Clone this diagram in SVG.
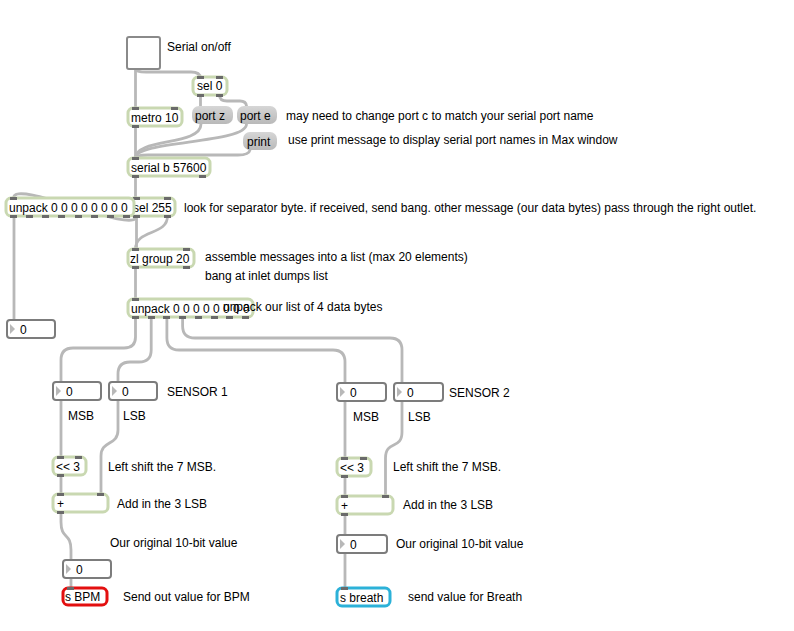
<svg xmlns="http://www.w3.org/2000/svg" width="794" height="631" viewBox="0 0 794 631">
<defs>
<linearGradient id="msgGrad" x1="0" y1="0" x2="0" y2="1">
<stop offset="0" stop-color="#d6d6d6"/>
<stop offset="1" stop-color="#b9b9b9"/>
</linearGradient>
</defs>
<style>
text{font-family:"Liberation Sans",Arial,sans-serif;font-size:12px;fill:#000}
.obj{fill:#fff;stroke:#c9d8b1;stroke-width:3}
.tab{fill:#6a6a6a}
.num{fill:#fff;stroke:#7c7c7c;stroke-width:2}
.tri{fill:#b8b8b8}
.msg{fill:url(#msgGrad)}
.tog{fill:#fff;stroke:#8a8a8a;stroke-width:2}
.cord{fill:none;stroke:#b8b8b8;stroke-width:2.8;stroke-linecap:round}
.sendr{fill:#fff;stroke:#e30f0f;stroke-width:3}
.sendb{fill:#fff;stroke:#2cb1d8;stroke-width:3}
</style>
<rect width="794" height="631" fill="#fff"/>

<g id="connectors">
<path class="cord" d="M135.5,69 V108"/>
<path class="cord" d="M135.5,69 Q136,72 146,72 L191,72 Q200,72 200.5,78"/>
<path class="cord" d="M200.5,95 V106"/>
<path class="cord" d="M219.5,95 Q219.5,101 227,101 L240,101 Q246,101 246.5,106"/>
<path class="cord" d="M201,124 C201,146 135.5,138 135.5,158"/>
<path class="cord" d="M246.5,124 C246.5,144 135.5,140 135.5,158"/>
<path class="cord" d="M250,150 Q249,155 238,155 L148,155 Q136,155 135.5,158"/>
<path class="cord" d="M135.5,126 V158"/>
<path class="cord" d="M135.5,176 V198"/>
<path class="cord" d="M136.5,216 C136.5,236 13.5,178 13.5,198"/>
<path class="cord" d="M136.5,216 V249"/>
<path class="cord" d="M167.5,216 C167.5,236 135.5,229 135.5,249"/>
<path class="cord" d="M14,216 V320"/>
<path class="cord" d="M135.5,267 V299"/>
<path class="cord" d="M135.5,317 V337 Q135.5,348 124,348 L73,348 Q61,348 61,360 V382"/>
<path class="cord" d="M151.2,317 V350 Q151.2,362 139,362 L130,362 Q118,362 118,374 V382"/>
<path class="cord" d="M166.9,317 V338 Q166.9,350 179,350 L333,350 Q345,350 345,362 V383"/>
<path class="cord" d="M182.6,317 V326 Q182.6,338 195,338 L390,338 Q402,338 402,350 V383"/>
<path class="cord" d="M61,400 V457"/>
<path class="cord" d="M118,400 V430 C118,446 101,440 101,456 V494"/>
<path class="cord" d="M61,475 V494"/>
<path class="cord" d="M61,512 V522 C61,540 71,532 71,550 V560"/>
<path class="cord" d="M71,578 V588"/>
<path class="cord" d="M345,401 V458"/>
<path class="cord" d="M402,401 V432 C402,450 385.5,440 385.5,458 V496"/>
<path class="cord" d="M345,476 V496"/>
<path class="cord" d="M345,514 V535"/>
<path class="cord" d="M345,553 V588"/>
</g>

<g id="toggle">
<rect class="tog" x="127" y="37" width="33" height="32" rx="2"/>
</g>
<text x="167" y="51">Serial on/off</text>

<g id="sel0">
<rect class="obj" x="193" y="77" width="34" height="18" rx="5"/>
<rect class="tab" x="197" y="76" width="7" height="3"/>
<rect class="tab" x="216" y="76" width="7" height="3"/>
<rect class="tab" x="197" y="94" width="7" height="3"/>
<rect class="tab" x="216" y="94" width="7" height="3"/>
<text x="197" y="90">sel 0</text>
</g>

<g id="metro">
<rect class="obj" x="128" y="108" width="54" height="18" rx="5"/>
<rect class="tab" x="132" y="107" width="7" height="3"/>
<rect class="tab" x="171" y="107" width="7" height="3"/>
<rect class="tab" x="132" y="125" width="7" height="3"/>
<text x="131" y="122">metro 10</text>
</g>

<g id="portz">
<rect class="msg" x="192" y="106" width="41" height="18" rx="7"/>
<text x="195" y="120">port z</text>
</g>
<g id="porte">
<rect class="msg" x="237" y="106" width="40" height="18" rx="7"/>
<text x="240" y="120">port e</text>
</g>
<text x="286" y="120">may need to change port c to match your serial port name</text>
<g id="print">
<rect class="msg" x="243" y="132" width="34" height="18" rx="7"/>
<text x="247" y="146">print</text>
</g>
<text x="288" y="144">use print message to display serial port names in Max window</text>

<g id="serial">
<rect class="obj" x="128" y="158" width="82" height="18" rx="5"/>
<rect class="tab" x="132" y="157" width="7" height="3"/>
<rect class="tab" x="132" y="175" width="7" height="3"/>
<rect class="tab" x="199" y="175" width="7" height="3"/>
<text x="131" y="172">serial b 57600</text>
</g>

<g id="sel255">
<rect class="obj" x="129" y="198" width="46" height="18" rx="5"/>
<rect class="tab" x="133" y="197" width="7" height="3"/>
<rect class="tab" x="164" y="197" width="7" height="3"/>
<rect class="tab" x="133" y="215" width="7" height="3"/>
<rect class="tab" x="164" y="215" width="7" height="3"/>
<text x="133" y="212">sel 255</text>
</g>

<g id="unpack1">
<rect class="obj" x="6" y="198" width="128" height="18" rx="5"/>
<rect class="tab" x="10" y="197" width="7" height="3"/>
<rect class="tab" x="10" y="215" width="7" height="3"/>
<rect class="tab" x="26" y="215" width="7" height="3"/>
<rect class="tab" x="42" y="215" width="7" height="3"/>
<rect class="tab" x="58" y="215" width="7" height="3"/>
<rect class="tab" x="75" y="215" width="7" height="3"/>
<rect class="tab" x="91" y="215" width="7" height="3"/>
<rect class="tab" x="107" y="215" width="7" height="3"/>
<rect class="tab" x="123" y="215" width="7" height="3"/>
<text x="9" y="212">unpack 0 0 0 0 0 0 0 0</text>
</g>
<text x="184" y="212">look for separator byte. if received, send bang. other message (our data bytes) pass through the right outlet.</text>

<g id="zlgroup">
<rect class="obj" x="128" y="249" width="66" height="18" rx="5"/>
<rect class="tab" x="132" y="248" width="7" height="3"/>
<rect class="tab" x="183" y="248" width="7" height="3"/>
<rect class="tab" x="132" y="266" width="7" height="3"/>
<rect class="tab" x="183" y="266" width="7" height="3"/>
<text x="130" y="263">zl group 20</text>
</g>
<text x="205" y="261">assemble messages into a list (max 20 elements)</text>
<text x="205" y="280">bang at inlet dumps list</text>

<g id="unpack2">
<rect class="obj" x="128" y="299" width="125" height="18" rx="5"/>
<rect class="tab" x="132" y="298" width="7" height="3"/>
<rect class="tab" x="132" y="316" width="7" height="3"/>
<rect class="tab" x="148" y="316" width="7" height="3"/>
<rect class="tab" x="163" y="316" width="7" height="3"/>
<rect class="tab" x="179" y="316" width="7" height="3"/>
<rect class="tab" x="195" y="316" width="7" height="3"/>
<rect class="tab" x="211" y="316" width="7" height="3"/>
<rect class="tab" x="226" y="316" width="7" height="3"/>
<rect class="tab" x="242" y="316" width="7" height="3"/>
<text x="131" y="313">unpack 0 0 0 0 0 0 0 0</text>
</g>
<text x="223" y="311">unpack our list of 4 data bytes</text>

<g id="num0">
<rect class="num" x="7" y="320" width="48" height="18" rx="3"/>
<path class="tri" d="M10,324 L15,329 L10,334 Z"/>
<text x="20" y="334">0</text>
</g>

<g id="msb1">
<rect class="num" x="53" y="382" width="48" height="18" rx="3"/>
<path class="tri" d="M56,386 L61,391 L56,396 Z"/>
<text x="66" y="396">0</text>
</g>
<g id="lsb1">
<rect class="num" x="109" y="382" width="48" height="18" rx="3"/>
<path class="tri" d="M112,386 L117,391 L112,396 Z"/>
<text x="122" y="396">0</text>
</g>
<text x="167" y="396">SENSOR 1</text>
<text x="68" y="420">MSB</text>
<text x="123" y="420">LSB</text>

<g id="shift1">
<rect class="obj" x="53" y="457" width="33" height="18" rx="5"/>
<rect class="tab" x="57" y="456" width="7" height="3"/>
<rect class="tab" x="75" y="456" width="7" height="3"/>
<rect class="tab" x="57" y="474" width="7" height="3"/>
<text x="56" y="471">&lt;&lt; 3</text>
</g>
<text x="108" y="471">Left shift the 7 MSB.</text>

<g id="plus1">
<rect class="obj" x="53" y="494" width="55" height="18" rx="5"/>
<rect class="tab" x="57" y="493" width="7" height="3"/>
<rect class="tab" x="97" y="493" width="7" height="3"/>
<rect class="tab" x="57" y="511" width="7" height="3"/>
<text x="57" y="508">+</text>
</g>
<text x="117" y="508">Add in the 3 LSB</text>
<text x="110" y="547">Our original 10-bit value</text>

<g id="val1">
<rect class="num" x="63" y="560" width="48" height="18" rx="3"/>
<path class="tri" d="M66,564 L71,569 L66,574 Z"/>
<text x="76" y="574">0</text>
</g>

<g id="sbpm">
<rect class="sendr" x="63" y="588" width="44" height="17" rx="5"/>
<rect class="tab" x="67" y="587" width="7" height="3"/>
<text x="65" y="601">s BPM</text>
</g>
<text x="123" y="601">Send out value for BPM</text>

<g id="msb2">
<rect class="num" x="337" y="383" width="49" height="18" rx="3"/>
<path class="tri" d="M340,387 L345,392 L340,397 Z"/>
<text x="350" y="397">0</text>
</g>
<g id="lsb2">
<rect class="num" x="394" y="383" width="49" height="18" rx="3"/>
<path class="tri" d="M397,387 L402,392 L397,397 Z"/>
<text x="407" y="397">0</text>
</g>
<text x="449" y="397">SENSOR 2</text>
<text x="353" y="421">MSB</text>
<text x="408" y="421">LSB</text>

<g id="shift2">
<rect class="obj" x="337" y="458" width="34" height="18" rx="5"/>
<rect class="tab" x="341" y="457" width="7" height="3"/>
<rect class="tab" x="360" y="457" width="7" height="3"/>
<rect class="tab" x="341" y="475" width="7" height="3"/>
<text x="340" y="472">&lt;&lt; 3</text>
</g>
<text x="393" y="471">Left shift the 7 MSB.</text>

<g id="plus2">
<rect class="obj" x="337" y="496" width="56" height="18" rx="5"/>
<rect class="tab" x="341" y="495" width="7" height="3"/>
<rect class="tab" x="382" y="495" width="7" height="3"/>
<rect class="tab" x="341" y="513" width="7" height="3"/>
<text x="341" y="510">+</text>
</g>
<text x="403" y="509">Add in the 3 LSB</text>

<g id="val2">
<rect class="num" x="337" y="535" width="50" height="18" rx="3"/>
<path class="tri" d="M340,539 L345,544 L340,549 Z"/>
<text x="350" y="549">0</text>
</g>
<text x="396" y="548">Our original 10-bit value</text>

<g id="sbreath">
<rect class="sendb" x="337" y="588" width="53" height="18" rx="5"/>
<rect class="tab" x="341" y="587" width="7" height="3"/>
<text x="340" y="602">s breath</text>
</g>
<text x="408" y="601">send value for Breath</text>
</svg>
